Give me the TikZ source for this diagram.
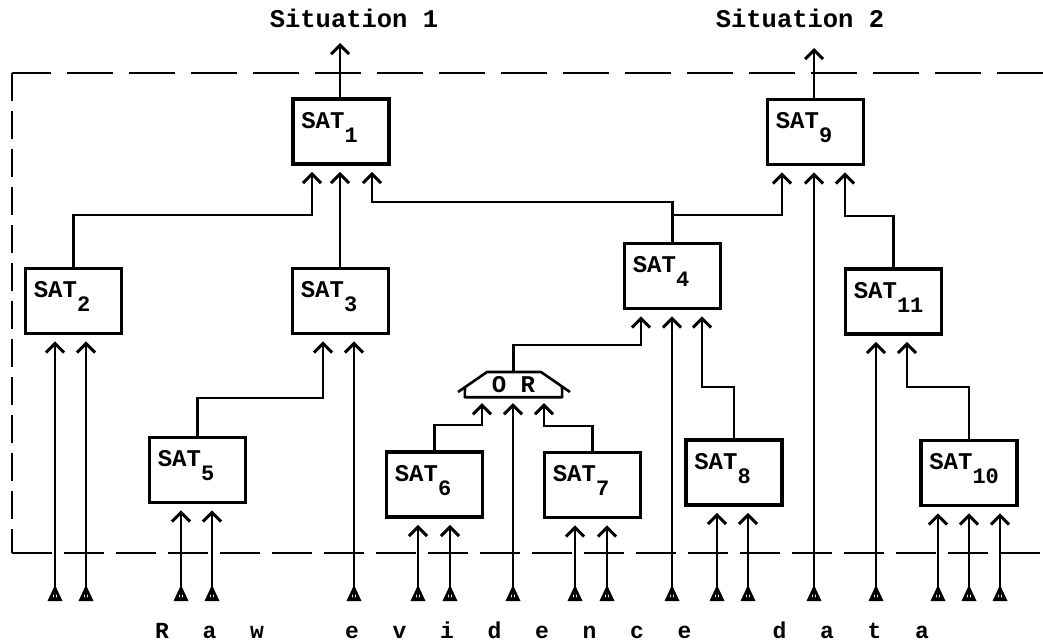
\documentclass[tikz,border=0pt]{standalone}
\usepackage{fontspec}
\setmonofont{Liberation Mono}
\usetikzlibrary{arrows.meta,calc}
\newcommand{\satl}[1]{{\ttfamily\bfseries\fontsize{24}{24}\selectfont SAT\raisebox{-14pt}{\fontsize{22}{22}\selectfont #1}}}
\newcommand{\cellch}[1]{\makebox[47.5pt]{#1}}
\begin{document}
\begin{tikzpicture}[x=1pt,y=-1pt,
  satbox/.style={draw, line width=3.8pt, minimum width=96pt, minimum height=65pt, inner sep=0pt},
  satlab/.style={anchor=base west, inner sep=0pt, xshift=10pt, yshift=-31pt},
  sat/.style={satbox, label={[satlab]north west:\satl{#1}}},
  tipb/.tip={Straight Barb[length=9pt,width=18pt,line width=3pt]},
  conn/.style={line width=2.8pt, -tipb, shorten >=6pt},
  outarr/.style={line width=2.8pt, -tipb},
  raw/.style={line width=2.8pt, -tipb, shorten >=6pt},
  tailtri/.style={fill=black},
  orline/.style={line width=2.6pt, line join=round},
  orgate/.style={minimum width=97pt, minimum height=25pt, inner sep=0pt, font=\ttfamily\bfseries\fontsize{24}{24}\selectfont},
  sitlab/.style={anchor=base, font=\ttfamily\bfseries\fontsize{25.5}{25.5}\selectfont},
  rawlab/.style={anchor=base, inner sep=0pt, font=\ttfamily\bfseries\fontsize{23}{23}\selectfont}
]
\useasboundingbox (0,0) rectangle (1043,643);

% boundary
\draw[line width=2.6pt, dash pattern=on 46pt off 16pt] (1043,73) -- (12,73);
\draw[line width=2.6pt, dash pattern=on 28pt off 10pt] (12,73) -- (12,553);
\draw[line width=2.6pt, dash pattern=on 40pt off 12pt] (12,553) -- (1043,553);

% boxes
\node[sat=1]  (sat1)  at (341,131.5) {};
\node[sat=9]  (sat9)  at (815.5,132) {};
\node[sat=2]  (sat2)  at (73.5,301) {};
\node[sat=3]  (sat3)  at (340.5,301) {};
\node[sat=4]  (sat4)  at (672.5,276) {};
\node[sat=11] (sat11) at (893.5,301.5) {};
\node[sat=5]  (sat5)  at (197.5,470) {};
\node[sat=6]  (sat6)  at (434.5,484.5) {};
\node[sat=7]  (sat7)  at (592.5,485) {};
\node[sat=8]  (sat8)  at (734,472.5) {};
\node[sat=10] (sat10) at (969,473) {};

% OR gate
\node[orgate] (or) at (513.5,384.5) {O R};
\draw[orline] ($(or.center)+(-55.5,7.5)$) -- ($(or.center)+(-26.5,-12.5)$) -- ($(or.center)+(27.5,-12.5)$) -- ($(or.center)+(56.5,7.5)$);
\draw[orline] ($(or.center)+(-48.5,2.67)$) -- (or.south west) -- (or.south east) -- ($(or.center)+(48.5,2.67)$);

% outputs
\coordinate (s1) at (340,43);
\coordinate (s2) at (814,48);
\draw[outarr] (sat1.north -| s1) -- (s1);
\draw[outarr] (sat9.north -| s2) -- (s2);
\node[sitlab] (sit1) at (354,27) {Situation 1};
\node[sitlab] (sit2) at (800,27) {Situation 2};

% internal connections
\draw[conn] (sat2.north) |- (312,215) -- (sat1.south -| 312,0);
\draw[conn] (sat3.north -| 340,0) -- (sat1.south -| 340,0);
\draw[conn] (sat4.north) |- (372,202) -- (sat1.south -| 372,0);
\draw[conn] (sat4.north |- 0,215) -| (sat9.south -| 782,0);
\draw[conn] (sat11.north) |- (845,216) -- (sat9.south -| 845,0);
\draw[conn] (sat5.north) |- (323,398) -- (sat3.south -| 323,0);
\draw[conn] (or.north) |- (641,345) -- (sat4.south -| 641,0);
\draw[conn] (sat8.north) |- (702,387) -- (sat4.south -| 702,0);
\draw[conn] (sat6.north) |- (482,425) -- (or.south -| 482,0);
\draw[conn] (sat7.north) |- (544,426) -- (or.south -| 544,0);
\draw[conn] (sat10.north) |- (907,387) -- (sat11.south -| 907,0);

% raw evidence inputs
\foreach \x [count=\i] in {55,86,181,212,354,418,450,513,575,607,672,717,748,814,876,938,969,1000}{
  \coordinate (r\i) at (\x,600);
  \fill[tailtri] ($(r\i)+(-7.5,1)$) -- ($(r\i)+(7.5,1)$) -- ($(r\i)+(0,-15)$) -- cycle;
  \fill[white] ($(r\i)+(0,-4)$) circle (2);
}
\draw[raw] (r1) -- (r1 |- sat2.south);
\draw[raw] (r2) -- (r2 |- sat2.south);
\draw[raw] (r3) -- (r3 |- sat5.south);
\draw[raw] (r4) -- (r4 |- sat5.south);
\draw[raw] (r5) -- (r5 |- sat3.south);
\draw[raw] (r6) -- (r6 |- sat6.south);
\draw[raw] (r7) -- (r7 |- sat6.south);
\draw[raw] (r8) -- (r8 |- or.south);
\draw[raw] (r9) -- (r9 |- sat7.south);
\draw[raw] (r10) -- (r10 |- sat7.south);
\draw[raw] (r11) -- (r11 |- sat4.south);
\draw[raw] (r12) -- (r12 |- sat8.south);
\draw[raw] (r13) -- (r13 |- sat8.south);
\draw[raw] (r14) -- (r14 |- sat9.south);
\draw[raw] (r15) -- (r15 |- sat11.south);
\draw[raw] (r16) -- (r16 |- sat10.south);
\draw[raw] (r17) -- (r17 |- sat10.south);
\draw[raw] (r18) -- (r18 |- sat10.south);

\node[rawlab] (rawtxt) at (542,638) {\cellch{R}\cellch{a}\cellch{w}\cellch{}\cellch{e}\cellch{v}\cellch{i}\cellch{d}\cellch{e}\cellch{n}\cellch{c}\cellch{e}\cellch{}\cellch{d}\cellch{a}\cellch{t}\cellch{a}};
\end{tikzpicture}
\end{document}
